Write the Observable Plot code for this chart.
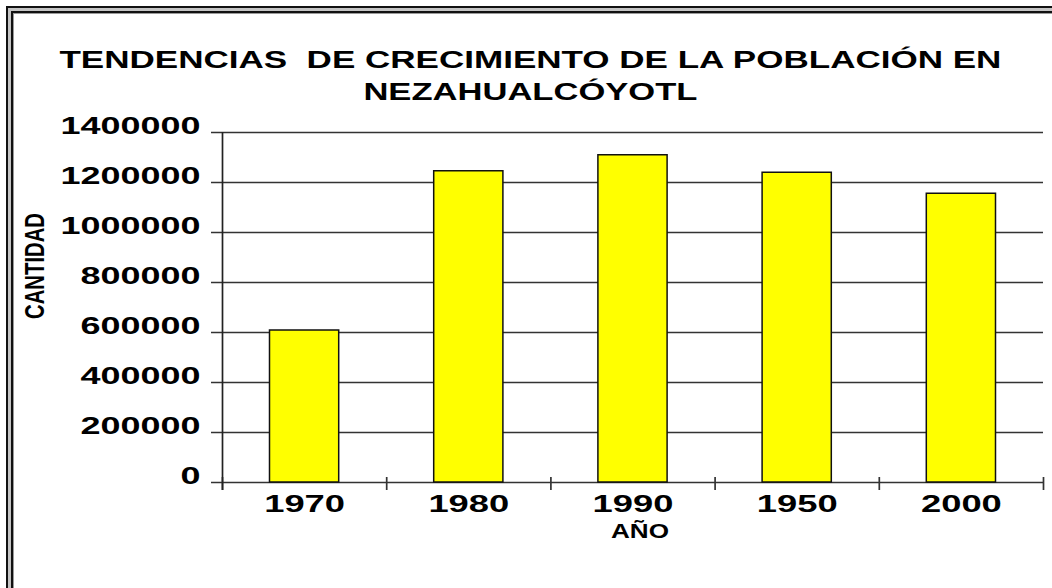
<!DOCTYPE html>
<html><head><meta charset="utf-8">
<script src="https://cdn.jsdelivr.net/npm/d3@7"></script>
<script src="https://cdn.jsdelivr.net/npm/@observablehq/plot@0.6"></script>
<style>
body{margin:0;background:#fff;}
#wrap{position:relative;width:1052px;height:588px;overflow:hidden;background:#fff;font-family:"Liberation Sans",Arial,sans-serif;}
#head{position:relative;height:118px;}
.tl{position:absolute;left:0;width:1060px;text-align:center;white-space:pre;font-weight:bold;font-size:24.5px;line-height:24.5px;color:#000;}
.tl span{display:inline-block;transform-origin:center;}
.fr{position:absolute;width:1200px;height:800px;pointer-events:none;box-sizing:border-box;}
#chart svg{display:block;}
</style>
</head><body>
<div id="wrap">
  <div id="head"></div>
  <div id="chart"></div>
  <div class="fr" style="left:6px;top:6px;border:2px solid #111;"></div>
  <div class="fr" style="left:8px;top:8px;border:3px solid #c4c4c4;"></div>
  <div class="fr" style="left:11px;top:11px;border:2px solid #111;"></div>
  <div class="fr" style="left:13px;top:13px;border:1px solid #9a9a9a;"></div>
</div>
<script>
const years = ["1970", "1980", "1990", "1950", "2000"];
const population = [608000, 1245000, 1309000, 1239000, 1155000];
const yTicks = [0, 200000, 400000, 600000, 800000, 1000000, 1200000, 1400000];
const titleLines = ["TENDENCIAS  DE CRECIMIENTO DE LA POBLACIÓN EN", "NEZAHUALCÓYOTL"];
const yLabel = "CANTIDAD";
const xLabel = "AÑO";

const data = years.map((year, i) => ({year, value: population[i], i}));
const bounds = d3.range(years.length + 1);

// title
const head = document.getElementById("head");
const titleTops = [47.5, 79.8];
const titleWidths = [942, 334];
titleLines.forEach((line, k) => {
  const div = document.createElement("div");
  div.className = "tl";
  div.style.top = titleTops[k] + "px";
  const span = document.createElement("span");
  span.textContent = line;
  div.appendChild(span);
  head.appendChild(div);
  const w = span.getBoundingClientRect().width;
  span.style.transform = `scaleX(${titleWidths[k] / w})`;
});

const plot = Plot.plot({
  width: 1052,
  height: 470,
  marginLeft: 222,
  marginRight: 9,
  marginTop: 14,
  marginBottom: 106,
  x: {domain: [0, years.length], label: null},
  y: {domain: [0, 1400000], label: null},
  style: {fontFamily: '"Liberation Sans", Arial, sans-serif', fontWeight: "bold", color: "#000", background: "transparent", overflow: "visible"},
  marks: [
    Plot.ruleY(yTicks, {y: d => d, stroke: "#333", strokeWidth: 1.7, insetLeft: -11}),
    Plot.rect(data, {x1: d => d.i, x2: d => d.i + 1, y1: 0, y2: "value", fill: "#ffff00", stroke: "#111", strokeWidth: 1.5, insetLeft: 47.5, insetRight: 47.5}),
    Plot.ruleX(bounds, {x: d => d, y1: 0, y2: 0, insetTop: -5, insetBottom: -8, stroke: "#333", strokeWidth: 1.7}),
    Plot.ruleX([0], {x: d => d, stroke: "#222", strokeWidth: 1.7, insetBottom: -8}),
    Plot.axisY({ticks: yTicks, tickSize: 0, tickPadding: 22, tickFormat: d3.format("d"), fontSize: 24, dy: -6, label: null}),
    Plot.axisX({ticks: years.map((d, i) => i + 0.5), tickSize: 0, tickPadding: 12, tickFormat: v => years[Math.round(v - 0.5)], fontSize: 24, label: null}),
    Plot.text([xLabel], {text: d => d, frameAnchor: "bottom", lineAnchor: "top", dx: 7, dy: 41, fontSize: 21, fontWeight: "bold"}),
    Plot.text([yLabel], {text: d => d, frameAnchor: "left", rotate: -90, dx: -187, dy: -41.5, fontSize: 28, fontWeight: "bold"})
  ]
});
document.getElementById("chart").appendChild(plot);

// stretch text to the reference's wide/condensed glyphs, keeping its anchor
const stretch = (t, len, anchor) => {
  t.setAttribute("textLength", len);
  t.setAttribute("lengthAdjust", "spacingAndGlyphs");
  t.setAttribute("text-anchor", "start");
  t.setAttribute("x", anchor === "end" ? -len : anchor === "middle" ? -len / 2 : 0);
};
plot.querySelectorAll('g[aria-label="y-axis tick label"] text').forEach(t => stretch(t, 20 * t.textContent.length, "end"));
plot.querySelectorAll('g[aria-label="x-axis tick label"] text').forEach(t => stretch(t, 20.2 * t.textContent.length, "middle"));
plot.querySelectorAll('text').forEach(t => {
  if (t.textContent === xLabel) stretch(t, 58, "middle");
  if (t.textContent === yLabel) stretch(t, 106, "middle");
});
</script>
</body></html>
